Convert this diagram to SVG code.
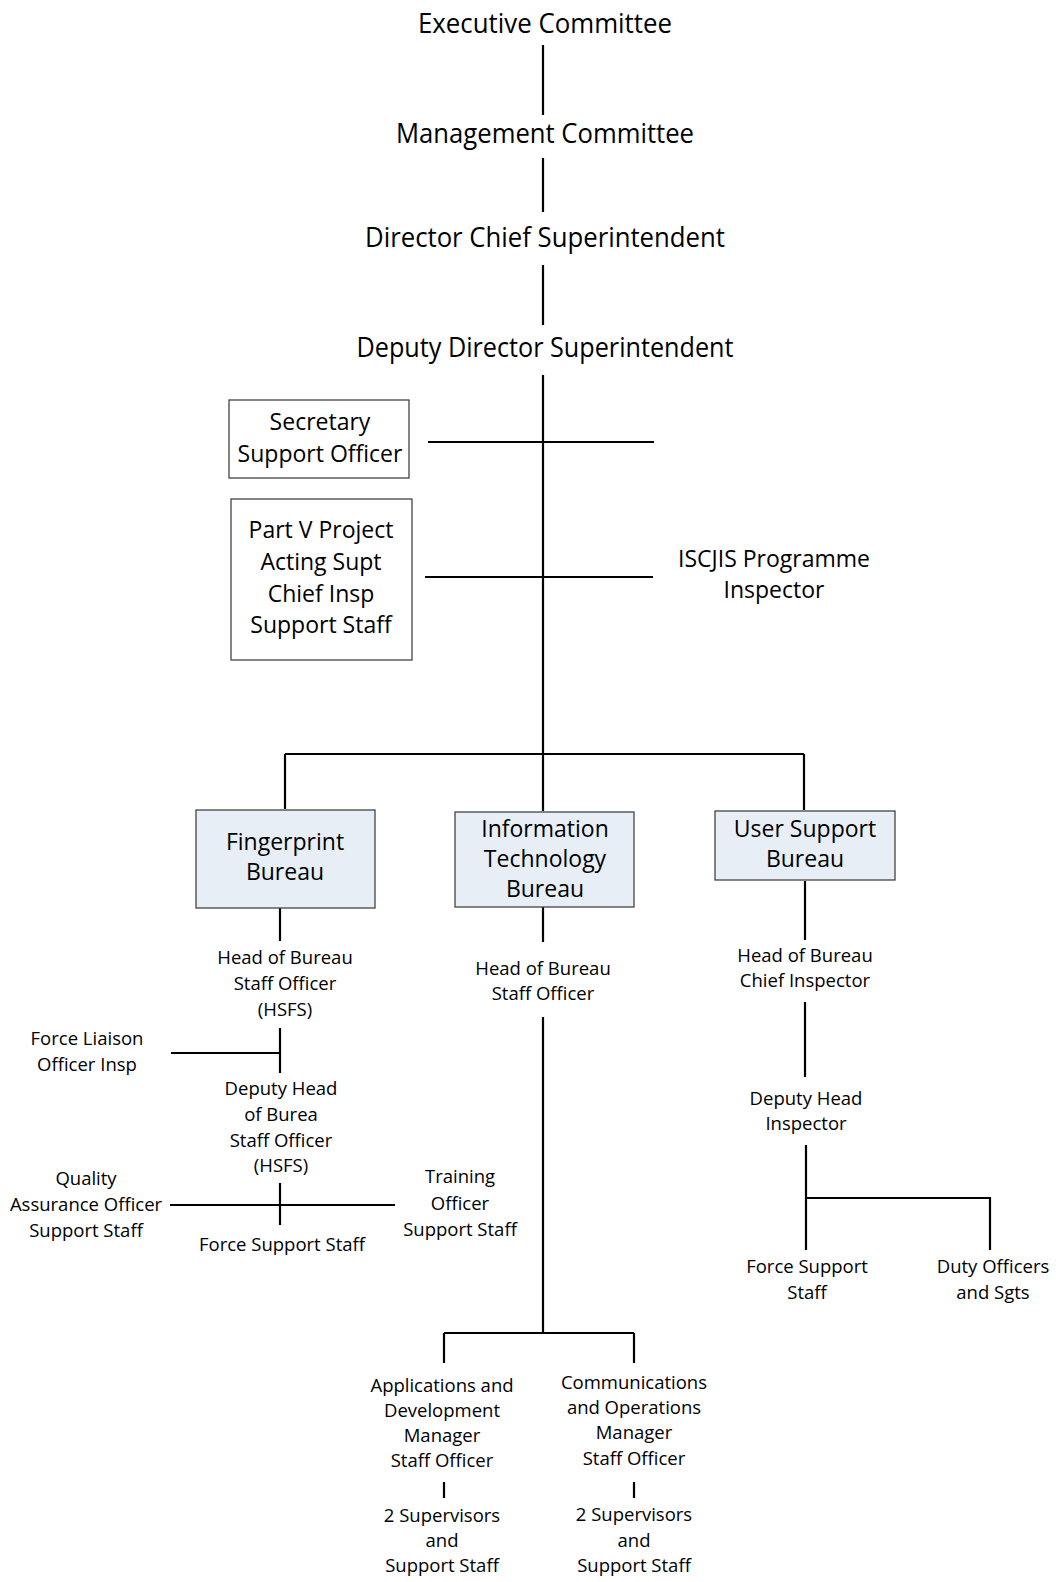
<svg xmlns="http://www.w3.org/2000/svg" width="1056" height="1582" viewBox="0 0 1056 1582">
<style>
text{font-family:"Open Sans","Noto Sans","Liberation Sans",sans-serif;fill:#000;text-anchor:middle}
.t1{font-size:26.5px}
.t2{font-size:23px}
.t3{font-size:18.5px}
.box{stroke:#444;stroke-width:1.3}
.plain{fill:#fff}
.blue{fill:#E8EEF6}
#connectors path{stroke:#000;stroke-width:2.2;fill:none}
</style>
<rect width="1056" height="1582" fill="#fff"/>
<g id="connectors">
<path d="M543,45V115M543,158V212M543,265V325"/>
<path d="M543,375V754M285,754H804M285,754V809M804,754V810M543,754V811"/>
<path d="M428,442H654M425,577H653"/>
<path d="M280,908V941M280,1028V1073M171,1053H280M280,1183V1225M170,1205H395"/>
<path d="M543,907V942M543,1017V1333M444,1333H634M444,1333V1363M634,1333V1363M444,1482V1498M634,1482V1498"/>
<path d="M805,881V940M805,1002V1077M806,1145V1250M806,1198H990V1250"/>
</g>
<g id="executive"><text class="t1" x="545" y="33" textLength="254" lengthAdjust="spacingAndGlyphs">Executive Committee</text></g>
<g id="management"><text class="t1" x="545" y="143" textLength="298" lengthAdjust="spacingAndGlyphs">Management Committee</text></g>
<g id="director"><text class="t1" x="545" y="247" textLength="360" lengthAdjust="spacingAndGlyphs">Director Chief Superintendent</text></g>
<g id="deputy-director"><text class="t1" x="545" y="357" textLength="377" lengthAdjust="spacingAndGlyphs">Deputy Director Superintendent</text></g>
<g id="secretary"><rect class="box plain" x="229" y="400" width="180" height="78"/>
<text class="t2" x="320" y="430">Secretary</text><text class="t2" x="320" y="462">Support Officer</text></g>
<g id="partv"><rect class="box plain" x="231" y="499" width="181" height="161"/>
<text class="t2" x="321" y="538">Part V Project</text><text class="t2" x="321" y="570">Acting Supt</text><text class="t2" x="321" y="602">Chief Insp</text><text class="t2" x="321" y="633">Support Staff</text></g>
<g id="iscjis"><text class="t2" x="774" y="567">ISCJIS Programme</text><text class="t2" x="774" y="598">Inspector</text></g>
<g id="fingerprint"><rect class="box blue" x="196" y="810" width="179" height="98"/>
<text class="t2" x="285" y="850">Fingerprint</text><text class="t2" x="285" y="880">Bureau</text></g>
<g id="it"><rect class="box blue" x="455" y="812" width="179" height="95"/>
<text class="t2" x="545" y="837">Information</text><text class="t2" x="545" y="867">Technology</text><text class="t2" x="545" y="897">Bureau</text></g>
<g id="usb"><rect class="box blue" x="715" y="811" width="180" height="69"/>
<text class="t2" x="805" y="837">User Support</text><text class="t2" x="805" y="867">Bureau</text></g>
<g id="fp-head"><text class="t3" x="285" y="964">Head of Bureau</text><text class="t3" x="285" y="990">Staff Officer</text><text class="t3" x="285" y="1016">(HSFS)</text></g>
<g id="force-liaison"><text class="t3" x="87" y="1045">Force Liaison</text><text class="t3" x="87" y="1071">Officer Insp</text></g>
<g id="fp-deputy"><text class="t3" x="281" y="1095">Deputy Head</text><text class="t3" x="281" y="1121">of Burea</text><text class="t3" x="281" y="1147">Staff Officer</text><text class="t3" x="281" y="1172">(HSFS)</text></g>
<g id="quality"><text class="t3" x="86" y="1185">Quality</text><text class="t3" x="86" y="1211">Assurance Officer</text><text class="t3" x="86" y="1237">Support Staff</text></g>
<g id="training"><text class="t3" x="460" y="1183">Training</text><text class="t3" x="460" y="1210">Officer</text><text class="t3" x="460" y="1236">Support Staff</text></g>
<g id="fp-force-support"><text class="t3" x="282" y="1251">Force Support Staff</text></g>
<g id="it-head"><text class="t3" x="543" y="975">Head of Bureau</text><text class="t3" x="543" y="1000">Staff Officer</text></g>
<g id="apps"><text class="t3" x="442" y="1392">Applications and</text><text class="t3" x="442" y="1417">Development</text><text class="t3" x="442" y="1442">Manager</text><text class="t3" x="442" y="1467">Staff Officer</text></g>
<g id="apps-sup"><text class="t3" x="442" y="1522">2 Supervisors</text><text class="t3" x="442" y="1547">and</text><text class="t3" x="442" y="1572">Support Staff</text></g>
<g id="comms"><text class="t3" x="634" y="1389">Communications</text><text class="t3" x="634" y="1414">and Operations</text><text class="t3" x="634" y="1439">Manager</text><text class="t3" x="634" y="1465">Staff Officer</text></g>
<g id="comms-sup"><text class="t3" x="634" y="1521">2 Supervisors</text><text class="t3" x="634" y="1547">and</text><text class="t3" x="634" y="1572">Support Staff</text></g>
<g id="usb-head"><text class="t3" x="805" y="962">Head of Bureau</text><text class="t3" x="805" y="987">Chief Inspector</text></g>
<g id="usb-deputy"><text class="t3" x="806" y="1105">Deputy Head</text><text class="t3" x="806" y="1130">Inspector</text></g>
<g id="usb-force"><text class="t3" x="807" y="1273">Force Support</text><text class="t3" x="807" y="1299">Staff</text></g>
<g id="duty"><text class="t3" x="993" y="1273">Duty Officers</text><text class="t3" x="993" y="1299">and Sgts</text></g>
</svg>
